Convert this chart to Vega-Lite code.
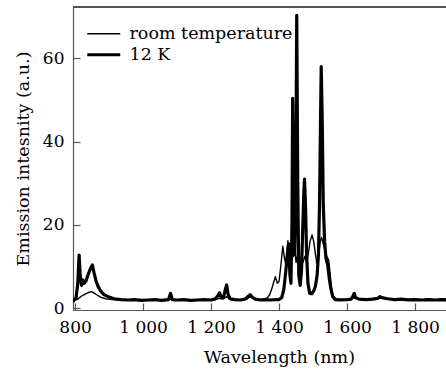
{
  "$schema": "https://vega.github.io/schema/vega-lite/v6.json",
  "autosize": "none",
  "padding": {"left": 73, "top": 7, "right": 0, "bottom": 63},
  "width": 373,
  "height": 303,
  "config": {
    "font": "DejaVu Serif",
    "view": {"stroke": null},
    "axis": {"labelFont": "DejaVu Serif", "titleFont": "DejaVu Serif", "labelFontSize": 17, "titleFontSize": 17.5, "labelColor": "#000", "titleColor": "#000", "titleFontWeight": "normal", "domainColor": "#555", "tickColor": "#555", "domainWidth": 1.2, "tickWidth": 1.2, "grid": false}
  },
  "data": {"values": [
    {"s": "room temperature", "w": 795, "v": 1.8},
    {"s": "room temperature", "w": 800, "v": 1.9},
    {"s": "room temperature", "w": 810, "v": 2.3},
    {"s": "room temperature", "w": 820, "v": 3.0},
    {"s": "room temperature", "w": 830, "v": 3.4},
    {"s": "room temperature", "w": 840, "v": 3.8},
    {"s": "room temperature", "w": 848, "v": 4.0},
    {"s": "room temperature", "w": 855, "v": 3.7},
    {"s": "room temperature", "w": 865, "v": 3.2},
    {"s": "room temperature", "w": 875, "v": 2.7},
    {"s": "room temperature", "w": 890, "v": 2.3},
    {"s": "room temperature", "w": 910, "v": 2.1},
    {"s": "room temperature", "w": 930, "v": 2.0},
    {"s": "room temperature", "w": 950, "v": 1.9},
    {"s": "room temperature", "w": 970, "v": 2.0},
    {"s": "room temperature", "w": 990, "v": 1.9},
    {"s": "room temperature", "w": 1010, "v": 2.0},
    {"s": "room temperature", "w": 1030, "v": 1.9},
    {"s": "room temperature", "w": 1050, "v": 2.0},
    {"s": "room temperature", "w": 1070, "v": 1.9},
    {"s": "room temperature", "w": 1081, "v": 2.2},
    {"s": "room temperature", "w": 1090, "v": 1.9},
    {"s": "room temperature", "w": 1110, "v": 2.0},
    {"s": "room temperature", "w": 1130, "v": 1.9},
    {"s": "room temperature", "w": 1150, "v": 2.0},
    {"s": "room temperature", "w": 1170, "v": 1.9},
    {"s": "room temperature", "w": 1190, "v": 2.0},
    {"s": "room temperature", "w": 1210, "v": 2.0},
    {"s": "room temperature", "w": 1225, "v": 2.4},
    {"s": "room temperature", "w": 1235, "v": 2.2},
    {"s": "room temperature", "w": 1246, "v": 2.8},
    {"s": "room temperature", "w": 1256, "v": 2.1},
    {"s": "room temperature", "w": 1270, "v": 2.0},
    {"s": "room temperature", "w": 1290, "v": 2.0},
    {"s": "room temperature", "w": 1305, "v": 2.2},
    {"s": "room temperature", "w": 1315, "v": 2.8},
    {"s": "room temperature", "w": 1325, "v": 2.3},
    {"s": "room temperature", "w": 1340, "v": 2.1},
    {"s": "room temperature", "w": 1355, "v": 2.2},
    {"s": "room temperature", "w": 1365, "v": 2.5},
    {"s": "room temperature", "w": 1372, "v": 3.2},
    {"s": "room temperature", "w": 1378, "v": 4.5},
    {"s": "room temperature", "w": 1385, "v": 6.5},
    {"s": "room temperature", "w": 1389, "v": 7.6},
    {"s": "room temperature", "w": 1395, "v": 6.0},
    {"s": "room temperature", "w": 1400, "v": 6.5},
    {"s": "room temperature", "w": 1405, "v": 10.0},
    {"s": "room temperature", "w": 1411, "v": 14.9},
    {"s": "room temperature", "w": 1416, "v": 12.0},
    {"s": "room temperature", "w": 1419, "v": 10.8},
    {"s": "room temperature", "w": 1423, "v": 13.0},
    {"s": "room temperature", "w": 1426, "v": 16.2},
    {"s": "room temperature", "w": 1430, "v": 13.0},
    {"s": "room temperature", "w": 1434, "v": 11.0},
    {"s": "room temperature", "w": 1438, "v": 15.0},
    {"s": "room temperature", "w": 1442, "v": 12.5},
    {"s": "room temperature", "w": 1446, "v": 14.0},
    {"s": "room temperature", "w": 1450, "v": 11.0},
    {"s": "room temperature", "w": 1455, "v": 13.5},
    {"s": "room temperature", "w": 1460, "v": 10.5},
    {"s": "room temperature", "w": 1465, "v": 12.0},
    {"s": "room temperature", "w": 1470, "v": 11.0},
    {"s": "room temperature", "w": 1476, "v": 12.5},
    {"s": "room temperature", "w": 1481, "v": 11.0},
    {"s": "room temperature", "w": 1486, "v": 13.0},
    {"s": "room temperature", "w": 1491, "v": 16.0},
    {"s": "room temperature", "w": 1497, "v": 17.6},
    {"s": "room temperature", "w": 1502, "v": 16.0},
    {"s": "room temperature", "w": 1507, "v": 13.0},
    {"s": "room temperature", "w": 1511, "v": 10.8},
    {"s": "room temperature", "w": 1516, "v": 12.5},
    {"s": "room temperature", "w": 1521, "v": 16.0},
    {"s": "room temperature", "w": 1525, "v": 17.0},
    {"s": "room temperature", "w": 1530, "v": 15.5},
    {"s": "room temperature", "w": 1535, "v": 14.0},
    {"s": "room temperature", "w": 1540, "v": 12.5},
    {"s": "room temperature", "w": 1546, "v": 11.6},
    {"s": "room temperature", "w": 1550, "v": 8.5},
    {"s": "room temperature", "w": 1554, "v": 5.0},
    {"s": "room temperature", "w": 1558, "v": 3.2},
    {"s": "room temperature", "w": 1565, "v": 2.3},
    {"s": "room temperature", "w": 1580, "v": 2.2},
    {"s": "room temperature", "w": 1600, "v": 2.1},
    {"s": "room temperature", "w": 1621, "v": 2.5},
    {"s": "room temperature", "w": 1640, "v": 2.2},
    {"s": "room temperature", "w": 1660, "v": 2.3},
    {"s": "room temperature", "w": 1680, "v": 2.2},
    {"s": "room temperature", "w": 1697, "v": 2.5},
    {"s": "room temperature", "w": 1720, "v": 2.3},
    {"s": "room temperature", "w": 1740, "v": 2.2},
    {"s": "room temperature", "w": 1760, "v": 2.3},
    {"s": "room temperature", "w": 1780, "v": 2.2},
    {"s": "room temperature", "w": 1800, "v": 2.2},
    {"s": "room temperature", "w": 1820, "v": 2.1},
    {"s": "room temperature", "w": 1840, "v": 2.2},
    {"s": "room temperature", "w": 1860, "v": 2.1},
    {"s": "room temperature", "w": 1880, "v": 2.2},
    {"s": "room temperature", "w": 1894, "v": 2.1},
    {"s": "12 K", "w": 794, "v": 1.5},
    {"s": "12 K", "w": 797, "v": 2.0},
    {"s": "12 K", "w": 803, "v": 2.5},
    {"s": "12 K", "w": 808, "v": 6.0},
    {"s": "12 K", "w": 812, "v": 12.8},
    {"s": "12 K", "w": 815, "v": 8.0},
    {"s": "12 K", "w": 819, "v": 5.5},
    {"s": "12 K", "w": 823, "v": 6.8},
    {"s": "12 K", "w": 827, "v": 6.0},
    {"s": "12 K", "w": 832, "v": 6.5},
    {"s": "12 K", "w": 838, "v": 8.0},
    {"s": "12 K", "w": 845, "v": 9.5},
    {"s": "12 K", "w": 851, "v": 10.4},
    {"s": "12 K", "w": 856, "v": 8.5},
    {"s": "12 K", "w": 862, "v": 6.5},
    {"s": "12 K", "w": 868, "v": 5.2},
    {"s": "12 K", "w": 875, "v": 4.2},
    {"s": "12 K", "w": 885, "v": 3.3},
    {"s": "12 K", "w": 900, "v": 2.7},
    {"s": "12 K", "w": 915, "v": 2.3},
    {"s": "12 K", "w": 935, "v": 2.1},
    {"s": "12 K", "w": 955, "v": 2.0},
    {"s": "12 K", "w": 975, "v": 2.1},
    {"s": "12 K", "w": 995, "v": 1.9},
    {"s": "12 K", "w": 1015, "v": 2.0},
    {"s": "12 K", "w": 1035, "v": 2.1},
    {"s": "12 K", "w": 1055, "v": 1.9},
    {"s": "12 K", "w": 1075, "v": 2.1},
    {"s": "12 K", "w": 1081, "v": 3.6},
    {"s": "12 K", "w": 1086, "v": 2.1},
    {"s": "12 K", "w": 1100, "v": 2.0},
    {"s": "12 K", "w": 1120, "v": 2.1},
    {"s": "12 K", "w": 1140, "v": 1.9},
    {"s": "12 K", "w": 1160, "v": 2.0},
    {"s": "12 K", "w": 1180, "v": 2.1},
    {"s": "12 K", "w": 1200, "v": 2.0},
    {"s": "12 K", "w": 1212, "v": 2.3},
    {"s": "12 K", "w": 1220, "v": 3.0},
    {"s": "12 K", "w": 1225, "v": 3.7},
    {"s": "12 K", "w": 1230, "v": 2.6},
    {"s": "12 K", "w": 1237, "v": 2.8},
    {"s": "12 K", "w": 1242, "v": 4.5},
    {"s": "12 K", "w": 1246, "v": 5.6},
    {"s": "12 K", "w": 1250, "v": 3.4},
    {"s": "12 K", "w": 1256, "v": 2.3},
    {"s": "12 K", "w": 1270, "v": 2.1},
    {"s": "12 K", "w": 1285, "v": 2.0},
    {"s": "12 K", "w": 1300, "v": 2.2},
    {"s": "12 K", "w": 1308, "v": 2.8},
    {"s": "12 K", "w": 1315, "v": 3.3},
    {"s": "12 K", "w": 1322, "v": 2.6},
    {"s": "12 K", "w": 1330, "v": 2.2},
    {"s": "12 K", "w": 1345, "v": 2.0},
    {"s": "12 K", "w": 1360, "v": 2.1},
    {"s": "12 K", "w": 1375, "v": 2.0},
    {"s": "12 K", "w": 1390, "v": 2.1},
    {"s": "12 K", "w": 1400, "v": 2.1},
    {"s": "12 K", "w": 1408, "v": 2.6},
    {"s": "12 K", "w": 1414, "v": 4.5},
    {"s": "12 K", "w": 1420, "v": 9.0},
    {"s": "12 K", "w": 1424, "v": 12.5},
    {"s": "12 K", "w": 1428, "v": 15.5},
    {"s": "12 K", "w": 1432, "v": 8.0},
    {"s": "12 K", "w": 1435, "v": 6.0},
    {"s": "12 K", "w": 1438, "v": 20.0},
    {"s": "12 K", "w": 1440, "v": 50.4},
    {"s": "12 K", "w": 1443, "v": 25.0},
    {"s": "12 K", "w": 1446, "v": 13.0},
    {"s": "12 K", "w": 1449, "v": 25.0},
    {"s": "12 K", "w": 1452, "v": 70.3},
    {"s": "12 K", "w": 1455, "v": 30.0},
    {"s": "12 K", "w": 1458, "v": 8.0},
    {"s": "12 K", "w": 1462, "v": 5.5},
    {"s": "12 K", "w": 1466, "v": 9.0},
    {"s": "12 K", "w": 1470, "v": 20.0},
    {"s": "12 K", "w": 1473, "v": 28.0},
    {"s": "12 K", "w": 1475, "v": 31.0},
    {"s": "12 K", "w": 1478, "v": 24.0},
    {"s": "12 K", "w": 1481, "v": 13.0},
    {"s": "12 K", "w": 1485, "v": 6.0},
    {"s": "12 K", "w": 1490, "v": 3.6},
    {"s": "12 K", "w": 1496, "v": 3.5},
    {"s": "12 K", "w": 1502, "v": 4.2},
    {"s": "12 K", "w": 1507, "v": 5.3},
    {"s": "12 K", "w": 1512, "v": 8.0},
    {"s": "12 K", "w": 1516, "v": 13.0},
    {"s": "12 K", "w": 1519, "v": 25.0},
    {"s": "12 K", "w": 1522, "v": 45.0},
    {"s": "12 K", "w": 1524, "v": 58.0},
    {"s": "12 K", "w": 1527, "v": 45.0},
    {"s": "12 K", "w": 1530, "v": 25.0},
    {"s": "12 K", "w": 1534, "v": 16.0},
    {"s": "12 K", "w": 1538, "v": 12.0},
    {"s": "12 K", "w": 1543, "v": 10.5},
    {"s": "12 K", "w": 1548, "v": 7.0},
    {"s": "12 K", "w": 1553, "v": 4.5},
    {"s": "12 K", "w": 1558, "v": 2.8},
    {"s": "12 K", "w": 1565, "v": 2.1},
    {"s": "12 K", "w": 1580, "v": 2.0},
    {"s": "12 K", "w": 1600, "v": 2.1},
    {"s": "12 K", "w": 1612, "v": 2.2},
    {"s": "12 K", "w": 1618, "v": 3.0},
    {"s": "12 K", "w": 1621, "v": 3.6},
    {"s": "12 K", "w": 1625, "v": 2.6},
    {"s": "12 K", "w": 1635, "v": 2.2},
    {"s": "12 K", "w": 1655, "v": 2.1},
    {"s": "12 K", "w": 1675, "v": 2.2},
    {"s": "12 K", "w": 1690, "v": 2.4},
    {"s": "12 K", "w": 1697, "v": 2.8},
    {"s": "12 K", "w": 1705, "v": 2.5},
    {"s": "12 K", "w": 1720, "v": 2.3},
    {"s": "12 K", "w": 1740, "v": 2.1},
    {"s": "12 K", "w": 1760, "v": 2.2},
    {"s": "12 K", "w": 1780, "v": 2.0},
    {"s": "12 K", "w": 1800, "v": 2.1},
    {"s": "12 K", "w": 1820, "v": 2.0},
    {"s": "12 K", "w": 1840, "v": 2.1},
    {"s": "12 K", "w": 1860, "v": 2.0},
    {"s": "12 K", "w": 1880, "v": 2.1},
    {"s": "12 K", "w": 1894, "v": 2.0}
  ]},
  "layer": [
    {
      "mark": {"type": "line", "color": "#000", "clip": true, "strokeJoin": "round"},
      "encoding": {
        "x": {
          "field": "w", "type": "quantitative",
          "scale": {"domain": [794, 1891], "nice": false, "zero": false},
          "axis": {
            "title": "Wavelength (nm)",
            "values": [800, 1000, 1200, 1400, 1600, 1800],
            "labelExpr": "replace(format(datum.value, ','), ',', ' ')",
            "tickSize": -7, "labelPadding": 16, "titlePadding": 13, "titleX": 206,
            "labelFlush": false
          }
        },
        "y": {
          "field": "v", "type": "quantitative",
          "scale": {"domain": [-0.4, 72.3], "nice": false, "zero": false},
          "axis": {
            "title": "Emission intesnity (a.u.)",
            "values": [0, 20, 40, 60],
            "tickSize": -7, "labelPadding": 16, "titlePadding": 10,
            "labelFlush": false
          }
        },
        "strokeWidth": {
          "field": "s", "type": "ordinal",
          "scale": {"domain": ["room temperature", "12 K"], "range": [1.4, 3.2]},
          "legend": {
            "title": null, "orient": "none", "legendX": 22, "legendY": 18,
            "symbolType": "M-3,0H3", "symbolSize": 121, "symbolStrokeColor": "#000",
            "labelFont": "DejaVu Serif", "labelFontSize": 17.5, "labelColor": "#000",
            "labelOffset": 17, "rowPadding": 2, "padding": 0, "labelLimit": 300
          }
        }
      }
    },
    {
      "mark": {"type": "rule", "color": "#555", "strokeWidth": 1.2},
      "encoding": {"y": {"datum": 72.3}}
    }
  ]
}
